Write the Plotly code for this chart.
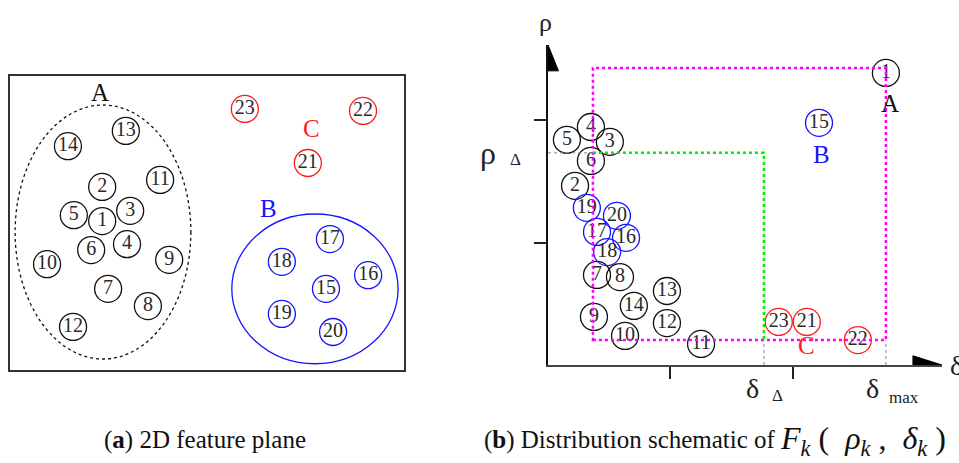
import plotly.graph_objects as go

# ---------------- (a) 2D feature plane ----------------
a_ids = list(range(1, 24))
a_f1 = [2.34, 2.34, 3.05, 2.97, 1.62, 2.06, 2.49, 3.50, 4.04, 0.94, 3.81, 1.60,
        2.94, 1.47, 8.02, 9.09, 8.12, 6.90, 6.90, 8.20, 7.56, 8.96, 5.96]
a_f2 = [3.80, 4.67, 4.06, 3.21, 3.95, 3.06, 2.07, 1.63, 2.81, 2.70, 4.85, 1.10,
        6.10, 5.71, 2.07, 2.42, 3.34, 2.76, 1.43, 0.97, 5.28, 6.61, 6.66]
cluster = ["A"] * 14 + ["B"] * 6 + ["C"] * 3

# cluster outlines in the feature plane: centre (f1, f2) and half-axes
cluster_A_outline = (2.36, 3.52, 2.23, 3.24)
cluster_B_outline = (7.74, 2.07, 2.11, 1.91)
cluster_label_pos = {"A": (2.28, 7.07), "B": (6.55, 4.13), "C": (7.64, 6.17)}

# ---------------- (b) rho-delta decision graph ----------------
b_delta = [1.000, 0.080, 0.183, 0.127, 0.056, 0.127, 0.145, 0.213, 0.136, 0.228,
           0.453, 0.352, 0.352, 0.254, 0.802, 0.231, 0.145, 0.175, 0.115, 0.204,
           0.766, 0.917, 0.683]
b_rho = [0.983, 0.603, 0.751, 0.801, 0.758, 0.687, 0.303, 0.296, 0.162, 0.098,
         0.071, 0.141, 0.249, 0.199, 0.815, 0.428, 0.448, 0.380, 0.529, 0.502,
         0.145, 0.084, 0.145]
b_label_pos = {"A": (1.012, 0.880), "B": (0.810, 0.710), "C": (0.766, 0.067)}

rho_delta, delta_delta = 0.714, 0.639
rho_min, rho_max = 0.084, 1.000
delta_min, delta_max = 0.133, 1.000
rho_ticks = [0.411, 0.825]
delta_ticks = [0.361, 0.725]
rho_axis_end, delta_axis_end = 1.077, 1.166

colors = {"A": "#111111", "B": "#1515ff", "C": "#ff1a1a"}
serif = "Liberation Serif, serif"
num_font = dict(family=serif, size=20, color="#2a2a2a")

fig = go.Figure()

for c in ["A", "B", "C"]:
    idx = [i for i, k in enumerate(cluster) if k == c]
    fig.add_trace(go.Scatter(
        x=[a_f1[i] for i in idx], y=[a_f2[i] for i in idx],
        text=[str(a_ids[i]) for i in idx], mode="markers+text",
        textposition="middle center", textfont=num_font,
        marker=dict(symbol="circle-open", size=27, color=colors[c],
                    line=dict(width=1.3, color=colors[c])),
        xaxis="x", yaxis="y", showlegend=False, hoverinfo="skip"))
    fig.add_trace(go.Scatter(
        x=[b_delta[i] for i in idx], y=[b_rho[i] for i in idx],
        text=[str(a_ids[i]) for i in idx], mode="markers+text",
        textposition="middle center", textfont=num_font,
        marker=dict(symbol="circle-open", size=27, color=colors[c],
                    line=dict(width=1.3, color=colors[c])),
        xaxis="x2", yaxis="y2", showlegend=False, hoverinfo="skip",
        cliponaxis=False))

# cluster outlines
cxA, cyA, rxA, ryA = cluster_A_outline
fig.add_shape(type="circle", xref="x", yref="y", x0=cxA - rxA, x1=cxA + rxA,
              y0=cyA - ryA, y1=cyA + ryA,
              line=dict(color="#111111", width=1.3, dash="3px,3px"))
cxB, cyB, rxB, ryB = cluster_B_outline
fig.add_shape(type="circle", xref="x", yref="y", x0=cxB - rxB, x1=cxB + rxB,
              y0=cyB - ryB, y1=cyB + ryB,
              line=dict(color="#1515ff", width=1.3))

for c, (x, y) in cluster_label_pos.items():
    fig.add_annotation(x=x, y=y, xref="x", yref="y", text=c, showarrow=False,
                       font=dict(family=serif, size=25, color=colors[c]))
for c, (x, y) in b_label_pos.items():
    fig.add_annotation(x=x, y=y, xref="x2", yref="y2", text=c, showarrow=False,
                       font=dict(family=serif, size=25, color=colors[c]))

# threshold boxes on the decision graph
magenta = dict(color="#ff00ff", width=2.5, dash="dot")
green = dict(color="#00ee00", width=2.5, dash="dot")
grey = dict(color="#888888", width=1, dash="3px,3px")
fig.add_shape(type="rect", xref="x2", yref="y2", x0=delta_min, x1=delta_max,
              y0=rho_min, y1=rho_max, line=magenta)
fig.add_shape(type="path", xref="x2", yref="y2",
              path=f"M {delta_min},{rho_delta} L {delta_delta},{rho_delta} L {delta_delta},{rho_min}",
              line=green)
fig.add_shape(type="line", xref="x2", yref="y2", x0=0, x1=delta_min,
              y0=rho_delta, y1=rho_delta, line=grey)
for d in [delta_delta, delta_max]:
    fig.add_shape(type="line", xref="x2", yref="y2", x0=d, x1=d,
                  y0=0, y1=rho_min, line=grey)

# axis arrow heads
fig.add_shape(type="path", xref="x2", yref="y2", fillcolor="black",
              line=dict(color="black", width=1),
              path=f"M 0,{rho_axis_end} L -0.031,0.990 L 0.031,0.990 Z")
fig.add_shape(type="path", xref="x2", yref="y2", fillcolor="black",
              line=dict(color="black", width=1),
              path=f"M {delta_axis_end},0 L 1.080,0.031 L 1.080,-0.031 Z")

# axis symbols
sym = dict(family=serif, size=28, color="#222")
small = dict(family=serif, size=17, color="#222")
fig.add_annotation(x=545 / 959, y=1 - 22 / 463, xref="paper", yref="paper", text="ρ",
                   xanchor="center", yanchor="middle", showarrow=False,
                   font=dict(family=serif, size=26, color="#222"))
fig.add_annotation(x=1.166, y=0, xref="x2", yref="y2", text="δ", showarrow=False,
                   xanchor="left", xshift=6, font=sym)
fig.add_annotation(x=0, y=rho_delta, xref="x2", yref="y2", text="ρ", showarrow=False,
                   xshift=-60, font=dict(family=serif, size=32, color="#222"))
fig.add_annotation(x=0, y=rho_delta, xref="x2", yref="y2", text="Δ", showarrow=False,
                   xshift=-33, yshift=-7, font=small)
fig.add_annotation(x=delta_delta, y=0, xref="x2", yref="y2", text="δ", showarrow=False,
                   xshift=-11, yshift=-23, font=sym)
fig.add_annotation(x=delta_delta, y=0, xref="x2", yref="y2", text="Δ", showarrow=False,
                   xshift=14, yshift=-30, font=small)
fig.add_annotation(x=delta_max, y=0, xref="x2", yref="y2", text="δ", showarrow=False,
                   xshift=-13, yshift=-23, font=sym)
fig.add_annotation(x=delta_max, y=0, xref="x2", yref="y2", text="max", showarrow=False,
                   xshift=18, yshift=-32, font=small)

# captions
cap_font = dict(family=serif, size=25, color="#111")
cap_y = 1 - 440 / 463
fig.add_annotation(x=205 / 959, y=cap_y, xref="paper", yref="paper",
                   xanchor="center", yanchor="middle",
                   text="(<b>a</b>) 2D feature plane",
                   showarrow=False, font=cap_font)
fig.add_annotation(x=482 / 959, y=cap_y, xref="paper", yref="paper",
                   xanchor="left", yanchor="middle",
                   text="(<b>b</b>) Distribution schematic of",
                   showarrow=False, font=cap_font)
fig.add_annotation(x=778 / 959, y=cap_y, xref="paper", yref="paper",
                   xanchor="left", yanchor="middle",
                   text="<i>F</i><sub><i>k</i></sub> (  <i>ρ</i><sub><i>k</i></sub> ,  "
                        "<i>δ</i><sub><i>k</i></sub> )",
                   showarrow=False, font=dict(family=serif, size=32, color="#111"))

fig.update_layout(
    width=959, height=463, margin=dict(l=0, r=0, t=0, b=0),
    paper_bgcolor="white", plot_bgcolor="white", showlegend=False,
    xaxis=dict(domain=[10 / 959, 404 / 959], range=[0, 10], showgrid=False,
               zeroline=False, showticklabels=False, ticks="", showline=True,
               mirror=True, linecolor="#333", linewidth=1.6),
    yaxis=dict(domain=[93 / 463, 387 / 463], range=[0, 7.5], showgrid=False,
               zeroline=False, showticklabels=False, ticks="", showline=True,
               mirror=True, linecolor="#333", linewidth=1.6),
    xaxis2=dict(domain=[548 / 959, 942 / 959], range=[0, delta_axis_end],
                showgrid=False, zeroline=False, showticklabels=False,
                tickvals=delta_ticks, ticks="outside", ticklen=12, tickwidth=1.5,
                tickcolor="#222", showline=True, linecolor="#444", linewidth=2,
                anchor="y2"),
    yaxis2=dict(domain=[98 / 463, 418 / 463], range=[0, rho_axis_end],
                showgrid=False, zeroline=False, showticklabels=False,
                tickvals=rho_ticks, ticks="outside", ticklen=12, tickwidth=1.5,
                tickcolor="#222", showline=True, linecolor="#111", linewidth=2,
                anchor="x2"),
)

fig.write_html("out.html")
